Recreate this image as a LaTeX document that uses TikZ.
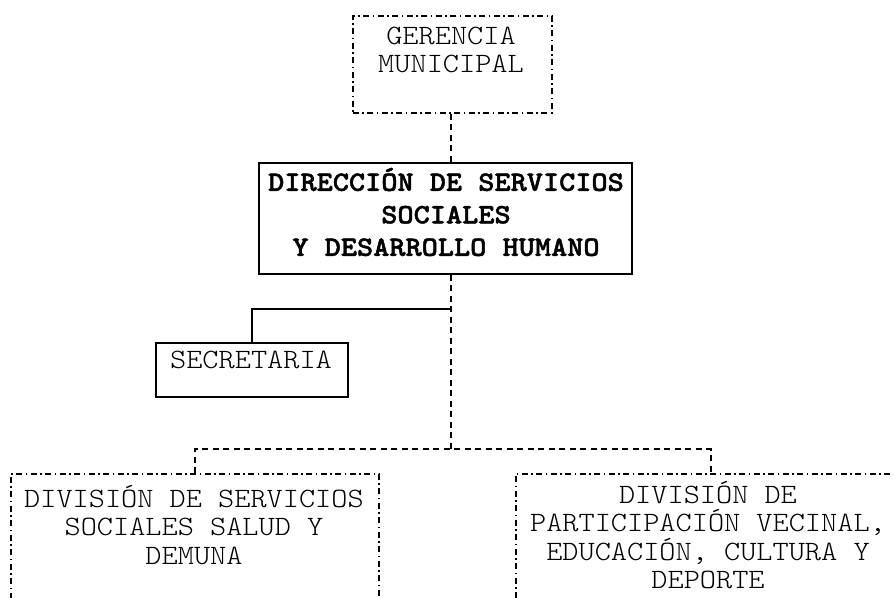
\documentclass[tikz,border=0pt]{standalone}
\usepackage{fontspec}
\setmonofont{lmmonolt10-regular.otf}[BoldFont=lmmonolt10-bold.otf, FakeStretch=1.1,
  BoldFeatures={FakeBold=1.6}]
\begin{document}
\begin{tikzpicture}[x=1pt,y=-1pt,
  dashdot/.style={draw, line width=1.6pt, dash pattern=on 6pt off 3.5pt on 1.5pt off 3.5pt,
    inner sep=0pt, anchor=north west},
  solidbox/.style={draw, line width=1.8pt, inner sep=0pt, anchor=north west},
  link/.style={line width=1.6pt, dash pattern=on 6pt off 4.5pt},
  solidlink/.style={line width=1.4pt},
  txt/.style={font=\ttfamily\fontsize{28}{28.3}\selectfont, align=center, inner sep=0pt},
  btxt/.style={font=\ttfamily\bfseries\fontsize{28}{32.5}\selectfont, align=center, inner sep=0pt}]
\useasboundingbox (0,0) rectangle (894,597);
\clip (0,0) rectangle (894,597);

% boxes
\node[dashdot, minimum width=199pt, minimum height=97pt] (ger) at (352,15) {};
\node[solidbox, minimum width=373pt, minimum height=111pt] (dir) at (258,162) {};
\node[solidbox, minimum width=192pt, minimum height=54pt] (sec) at (155,342) {};
\node[dashdot, minimum width=368pt, minimum height=160pt] (divA) at (10,473) {};
\node[dashdot, minimum width=390pt, minimum height=160pt] (divB) at (515,473) {};

% texts
\node[txt] (gerT) at (451,50) {GERENCIA\\MUNICIPAL};
\node[btxt] (dirT) at (446,212) {DIRECCIÓN DE SERVICIOS\\SOCIALES\\Y DESARROLLO HUMANO};
\node[txt] (secT) at (251,360) {SECRETARIA};
\node[txt] (divAT) at (194,525) {DIVISIÓN DE SERVICIOS\\SOCIALES SALUD Y\\DEMUNA};
\node[txt] (divBT) at (708,535) {DIVISIÓN DE\\PARTICIPACIÓN VECINAL,\\EDUCACIÓN, CULTURA Y\\DEPORTE};

% connectors
\coordinate (hub) at (451,449);
\coordinate (secJ) at (451,309);
\draw[link] (ger.south -| hub) -- (dir.north -| hub);
\draw[link] (dir.south -| hub) -- (hub);
\draw[solidlink] (secJ) -| (sec.north);
\draw[link] (divA.north) |- (hub) -| (divB.north);
\end{tikzpicture}
\end{document}
